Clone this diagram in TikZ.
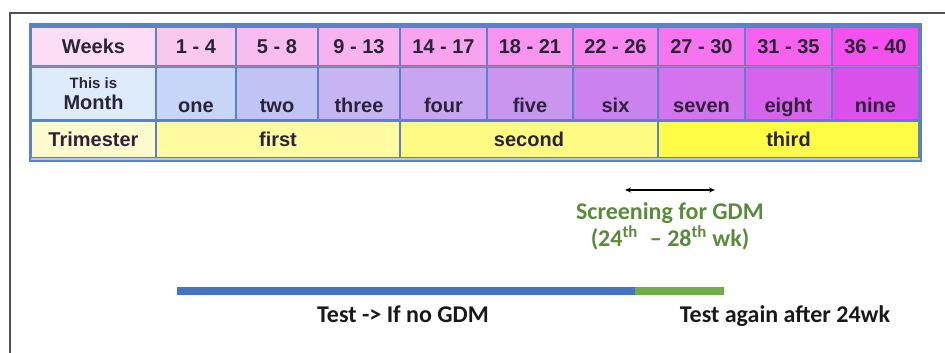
\documentclass[tikz,border=0pt]{standalone}
\usepackage{fontspec}
\newfontfamily\tabfont{Liberation Sans}
\newfontfamily\calfont{Carlito}
\usetikzlibrary{arrows.meta}
\definecolor{framegray}{HTML}{505050}
\definecolor{tabblue}{HTML}{5A82C8}
\definecolor{tabline}{HTML}{8C93C4}
\definecolor{txt}{HTML}{2A2436}
\definecolor{w0}{HTML}{FBDDF6}
\definecolor{w1}{HTML}{F9C8EE}
\definecolor{w2}{HTML}{F8BCEE}
\definecolor{w3}{HTML}{F8B2EF}
\definecolor{w4}{HTML}{F7A3EE}
\definecolor{w5}{HTML}{F794EE}
\definecolor{w6}{HTML}{F786EE}
\definecolor{w7}{HTML}{F675EE}
\definecolor{w8}{HTML}{F563EE}
\definecolor{w9}{HTML}{F450EE}
\definecolor{m0}{HTML}{DDEBFA}
\definecolor{m1}{HTML}{C7D6F6}
\definecolor{m2}{HTML}{C2C3F5}
\definecolor{m3}{HTML}{C7B5F3}
\definecolor{m4}{HTML}{C7A5F0}
\definecolor{m5}{HTML}{C995EF}
\definecolor{m6}{HTML}{CC82EE}
\definecolor{m7}{HTML}{D572EE}
\definecolor{m8}{HTML}{D862EB}
\definecolor{m9}{HTML}{DA50EA}
\definecolor{t0}{HTML}{FFFBCF}
\definecolor{t1}{HTML}{FFFBA0}
\definecolor{t2}{HTML}{FFFA82}
\definecolor{t3}{HTML}{FFFC45}
\definecolor{gdmgreen}{HTML}{5B8A3C}
\definecolor{bargreen}{HTML}{70AD47}
\definecolor{barblue}{HTML}{4472C4}
\tikzset{
  cell/.style={inner sep=0pt, text=txt, font=\tabfont\bfseries\fontsize{20}{22}\selectfont},
  lowtext/.style={inner sep=0pt, text height=17pt, text depth=5pt, font=\calfont\bfseries\fontsize{24}{27}\selectfont},
  bar/.style={line width=8pt, line cap=butt},
}
\begin{document}
\begin{tikzpicture}[x=1pt,y=-1pt]
\useasboundingbox (0,0) rectangle (945,353);
% outer frame
\draw[framegray, line width=2pt] (10,353) -- (10,13) -- (945,13);
% table background
\fill[tabblue] (29,23) rectangle (922,162);
\fill[tabline] (31,66) rectangle (920,67.5);
\fill[tabblue!45] (31,158) rectangle (920,159.5);
% row 1: weeks
\foreach \l/\r/\c/\t [count=\i from 0] in {32/155/w0/Weeks, 157/235/w1/1 - 4, 237/317/w2/5 - 8, 319/399/w3/9 - 13, 401/486/w4/14 - 17, 488/572/w5/18 - 21, 574/657/w6/22 - 26, 659/744/w7/27 - 30, 746/831/w8/31 - 35, 833/918/w9/36 - 40}{
  \node[cell, fill=\c, minimum width={\r-\l}, minimum height=37, text height=14pt, text depth=0pt] (wk\i) at ({(\l+\r)/2},46.5) {\t};
}
% row 2: months
\node[cell, fill=m0, minimum width=123, minimum height=51, align=center] (mo0) at (93.5,93.5) {{\fontsize{15}{17}\selectfont This is}\\[-1pt]Month};
\foreach \l/\r/\c/\t [count=\i from 1] in {157/235/m1/one, 237/317/m2/two, 319/399/m3/three, 401/486/m4/four, 488/572/m5/five, 574/657/m6/six, 659/744/m7/seven, 746/831/m8/eight, 833/918/m9/nine}{
  \node[cell, fill=\c, minimum width={\r-\l}, minimum height=51, text height=37pt, text depth=0pt] (mo\i) at ({(\l+\r)/2},93.5) {\t};
}
% row 3: trimesters
\foreach \l/\r/\c/\t [count=\i from 0] in {32/155/t0/Trimester, 157/399/t1/first, 401/657/t2/second, 659/918/t3/third}{
  \node[cell, fill=\c, minimum width={\r-\l}, minimum height=35, text height=14pt, text depth=0pt] (tr\i) at ({(\l+\r)/2},139.5) {\t};
}
% screening arrow and text
\coordinate (sa) at (625,190);
\coordinate (sb) at (715,190);
\draw[{Stealth[length=6pt,width=5pt]}-{Stealth[length=6pt,width=5pt]}, line width=1.3pt] (sa) -- (sb);
\node[lowtext, text=gdmgreen, align=center, text height=, text depth=] (scr) at (670,226) {Screening for GDM\\(24\textsuperscript{th}\enspace– 28\textsuperscript{th} wk)};
% bars
\coordinate (b0) at (177,291);
\coordinate (b1) at (635,291);
\coordinate (b2) at (724,291);
\draw[bar, barblue] (b0) -- (b1);
\draw[bar, bargreen] (b1) -- (b2);
\node[lowtext, text=black!90] (t1) at (403,316) {Test -> If no GDM};
\node[lowtext, text=black!90] (t2) at (785,316) {Test again after 24wk};
\end{tikzpicture}
\end{document}
